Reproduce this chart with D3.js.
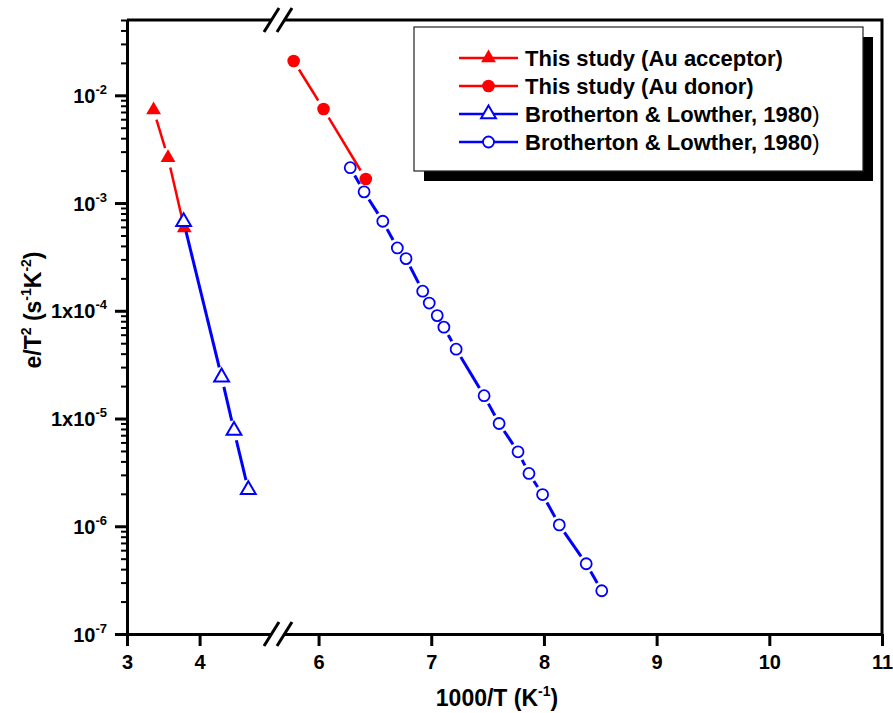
<!DOCTYPE html>
<html>
<head>
<meta charset="utf-8">
<script src="https://cdn.jsdelivr.net/npm/d3@7"></script>
<style>
  body { margin: 0; background: #fff; }
  svg text { font-family: "Liberation Sans", Arial, sans-serif; font-weight: bold; fill: #000; }
</style>
</head>
<body>
<svg id="chart" width="893" height="713"></svg>
<script>
//-----------------------------------------
// data
//-----------------------------------------
var acceptorX = [3.366, 3.565, 3.789];
var acceptorY = [7.3e-3, 2.63e-3, 5.87e-4];

var donorX = [5.779, 6.044, 6.419];
var donorY = [2.08e-2, 7.46e-3, 1.67e-3];

var brothTriX = [3.78, 4.303, 4.474, 4.671];
var brothTriY = [6.71e-4, 2.42e-5, 7.74e-6, 2.18e-6];

var brothCircX = [6.281, 6.404, 6.570, 6.699, 6.776, 6.924, 6.982, 7.053, 7.112,
                  7.221, 7.469, 7.602, 7.770, 7.867, 7.988, 8.136, 8.375, 8.513];
var brothCircY = [2.13e-3, 1.27e-3, 6.78e-4, 3.83e-4, 3.05e-4, 1.52e-4, 1.18e-4, 9.02e-5, 7.05e-5,
                  4.40e-5, 1.63e-5, 8.99e-6, 4.91e-6, 3.09e-6, 1.97e-6, 1.03e-6, 4.49e-7, 2.52e-7];

var legendLabels = ["This study (Au acceptor)", "This study (Au donor)",
                    "Brotherton & Lowther, 1980", "Brotherton & Lowther, 1980"];

var xTicksLeft = [3, 4];
var xTicksRight = [6, 7, 8, 9, 10, 11];
var yTicks = [1e-2, 1e-3, 1e-4, 1e-5, 1e-6, 1e-7];
var yTickBase = ["10", "10", "1x10", "1x10", "10", "10"];
var yTickExp = ["-2", "-3", "-4", "-5", "-6", "-7"];

//-----------------------------------------
// layout + scales
//-----------------------------------------
var plot = { left: 127, right: 882, top: 20, bottom: 634 };
var breakPx = 278;
var breakLo = 5.08, breakHi = 5.64;

var svg = d3.select("#chart");

var xLeft = d3.scaleLinear().domain([3, breakLo]).range([plot.left, breakPx]);
var xRight = d3.scaleLinear().domain([breakHi, 11]).range([breakPx, plot.right]);
function xPos(v) { return v <= breakLo ? xLeft(v) : xRight(v); }

var y = d3.scaleLog().domain([1e-7, 5e-2]).range([plot.bottom, plot.top]);

// minor ticks for log axis
var minorTicks = [];
for (var e = -7; e <= -2; e++) {
  for (var m = 2; m <= 9; m++) {
    var v = m * Math.pow(10, e);
    if (v <= 5e-2 + 1e-12) minorTicks.push(v);
  }
}

//-----------------------------------------
// axes
//-----------------------------------------
var yAxisMinor = d3.axisLeft(y).tickValues(minorTicks).tickSize(6).tickSizeOuter(0).tickFormat("");
svg.append("g").attr("class", "ymin")
  .attr("transform", "translate(" + plot.left + ",0)")
  .call(yAxisMinor);
svg.select(".ymin").selectAll("line").attr("stroke-width", 2);
svg.select(".ymin").select(".domain").remove();

var yAxis = d3.axisLeft(y).tickValues(yTicks).tickSize(12).tickSizeOuter(0).tickPadding(8);
var yg = svg.append("g")
  .attr("transform", "translate(" + plot.left + ",0)")
  .call(yAxis);
yg.selectAll(".tick line").attr("stroke-width", 3);
yg.select(".domain").attr("stroke-width", 3);
yg.selectAll(".tick text").each(function (d, i) {
  var t = d3.select(this);
  t.text(null).attr("font-size", 20).attr("dy", "0.36em");
  t.append("tspan").text(yTickBase[i]);
  t.append("tspan").attr("font-size", 13).attr("dy", -9).text(yTickExp[i]);
});

var fmt = d3.format("d");
var xgL = svg.append("g")
  .attr("transform", "translate(0," + plot.bottom + ")")
  .call(d3.axisBottom(xLeft).tickValues(xTicksLeft).tickFormat(fmt).tickSize(12).tickSizeOuter(0).tickPadding(9));
var xgR = svg.append("g")
  .attr("transform", "translate(0," + plot.bottom + ")")
  .call(d3.axisBottom(xRight).tickValues(xTicksRight).tickFormat(fmt).tickSize(12).tickSizeOuter(0).tickPadding(9));
[xgL, xgR].forEach(function (g) {
  g.selectAll(".tick line").attr("stroke-width", 3);
  g.select(".domain").attr("stroke-width", 3);
  g.selectAll(".tick text").attr("font-size", 20);
});

// top + right frame
svg.append("path")
  .attr("d", "M" + plot.left + "," + plot.top + "H" + plot.right + "V" + plot.bottom)
  .attr("fill", "none").attr("stroke", "#000").attr("stroke-width", 3);

// axis break marks
[plot.top, plot.bottom].forEach(function (yy) {
  var c1 = breakPx - 6.5, c2 = breakPx + 6.5;
  svg.append("polygon")
    .attr("points", [[c1 - 5, yy + 8], [c1 + 5, yy - 8], [c2 + 5, yy - 8], [c2 - 5, yy + 8]].join(" "))
    .attr("fill", "#fff");
  [c1, c2].forEach(function (c) {
    svg.append("line")
      .attr("x1", c - 7.5).attr("y1", yy + 12).attr("x2", c + 7.5).attr("y2", yy - 12)
      .attr("stroke", "#000").attr("stroke-width", 3);
  });
});

// axis titles
var xt = svg.append("text").attr("x", 497).attr("y", 706).attr("text-anchor", "middle").attr("font-size", 23);
xt.append("tspan").text("1000/T (K");
xt.append("tspan").attr("font-size", 14).attr("dy", -10).text("-1");
xt.append("tspan").attr("dy", 10).text(")");

var yt = svg.append("text").attr("transform", "translate(41,310) rotate(-90)")
  .attr("text-anchor", "middle").attr("font-size", 23);
yt.append("tspan").text("e/T");
yt.append("tspan").attr("font-size", 14).attr("dy", -10).text("2");
yt.append("tspan").attr("dy", 10).text(" (s");
yt.append("tspan").attr("font-size", 14).attr("dy", -10).text("-1");
yt.append("tspan").attr("dy", 10).text("K");
yt.append("tspan").attr("font-size", 14).attr("dy", -10).text("-2");
yt.append("tspan").attr("dy", 10).text(")");

//-----------------------------------------
// series
//-----------------------------------------
var triangle = d3.symbol().type(d3.symbolTriangle).size(95);

function drawSeries(xs, ys, color, lw, gap, marker) {
  var pts = xs.map(function (d, i) { return [xPos(d), y(ys[i])]; });
  var g = svg.append("g");
  for (var i = 0; i < pts.length - 1; i++) {
    var p0 = pts[i], p1 = pts[i + 1];
    var dx = p1[0] - p0[0], dy = p1[1] - p0[1];
    var len = Math.sqrt(dx * dx + dy * dy);
    if (len <= 2 * gap) continue;
    var ux = dx / len, uy = dy / len;
    g.append("line")
      .attr("x1", p0[0] + ux * gap).attr("y1", p0[1] + uy * gap)
      .attr("x2", p1[0] - ux * gap).attr("y2", p1[1] - uy * gap)
      .attr("stroke", color).attr("stroke-width", lw);
  }
  pts.forEach(function (p) { marker(g, p[0], p[1]); });
}

function filledTri(color) {
  return function (g, px, py) {
    g.append("path").attr("d", triangle).attr("transform", "translate(" + px + "," + py + ")")
      .attr("fill", color);
  };
}
function openTri(color) {
  return function (g, px, py) {
    g.append("path").attr("d", triangle).attr("transform", "translate(" + px + "," + py + ")")
      .attr("fill", "#fff").attr("stroke", color).attr("stroke-width", 2);
  };
}
function filledCirc(color) {
  return function (g, px, py) {
    g.append("circle").attr("cx", px).attr("cy", py).attr("r", 6.3).attr("fill", color);
  };
}
function openCirc(color) {
  return function (g, px, py) {
    g.append("circle").attr("cx", px).attr("cy", py).attr("r", 5.5)
      .attr("fill", "#fff").attr("stroke", color).attr("stroke-width", 1.8);
  };
}

var red = "#ff0000", blue = "#0000ff";
drawSeries(acceptorX, acceptorY, red, 2.5, 10, filledTri(red));
drawSeries(donorX, donorY, red, 2.5, 10, filledCirc(red));
drawSeries(brothTriX, brothTriY, blue, 3, 10, openTri(blue));
drawSeries(brothCircX, brothCircY, blue, 3, 9, openCirc(blue));

//-----------------------------------------
// legend
//-----------------------------------------
var lg = svg.append("g");
lg.append("rect").attr("x", 424).attr("y", 37).attr("width", 449).attr("height", 144).attr("fill", "#000");
lg.append("rect").attr("x", 414).attr("y", 27).attr("width", 449).attr("height", 144)
  .attr("fill", "#fff").attr("stroke", "#222").attr("stroke-width", 1.2);

var legendColors = [red, red, blue, blue];
var legendMarkers = [filledTri(red), filledCirc(red), openTri(blue), openCirc(blue)];
legendLabels.forEach(function (lab, i) {
  var cy = 58 + i * 28;
  lg.append("line").attr("x1", 459).attr("x2", 518).attr("y1", cy).attr("y2", cy)
    .attr("stroke", legendColors[i]).attr("stroke-width", 2.5);
  legendMarkers[i](lg, 488.5, cy);
  var t = lg.append("text").attr("x", 525).attr("y", cy + 8).attr("font-size", 22);
  t.append("tspan").text(lab);
  if (i >= 2) t.append("tspan").attr("font-weight", "normal").text(")");
});
</script>
</body>
</html>
